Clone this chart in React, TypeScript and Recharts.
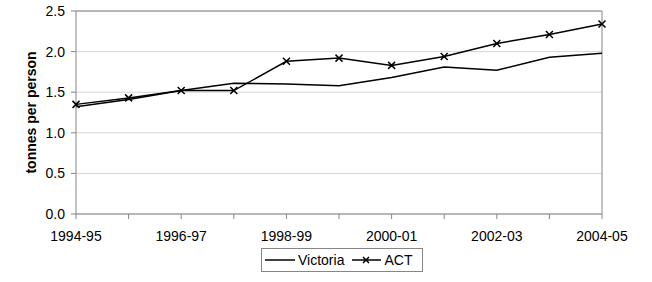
import { LineChart, Line, XAxis, YAxis, CartesianGrid, ReferenceLine } from 'recharts';

const years = ['1994-95', '1995-96', '1996-97', '1997-98', '1998-99', '1999-00', '2000-01', '2001-02', '2002-03', '2003-04', '2004-05'];
const victoria = [1.32, 1.41, 1.52, 1.61, 1.60, 1.58, 1.68, 1.81, 1.77, 1.93, 1.98];
const act = [1.35, 1.43, 1.52, 1.52, 1.88, 1.92, 1.83, 1.94, 2.10, 2.21, 2.34];
const yTicks = [0, 0.5, 1.0, 1.5, 2.0, 2.5];

const data = years.map((year, i) => ({ year, victoria: victoria[i], act: act[i] }));

const font = '"Liberation Sans", Arial, sans-serif';
const axisGray = '#868686';

const Cross = (props: any) => {
    const { cx, cy } = props;
    if (cx == null || cy == null) return null;
    const s = 3.5;
    return (
        <path
            d={`M${cx - s},${cy - s}L${cx + s},${cy + s}M${cx - s},${cy + s}L${cx + s},${cy - s}`}
            stroke="#000"
            strokeWidth={1.5}
            fill="none"
        />
    );
};

const ChartLegend = () => (
    <div
        style={{
            position: 'absolute',
            left: 261,
            top: 248,
            width: 162,
            height: 24,
            border: `1px solid ${axisGray}`,
            boxSizing: 'border-box',
            fontFamily: font,
            fontSize: 14,
            display: 'flex',
            alignItems: 'center',
            paddingLeft: 3,
        }}
    >
        <svg width={30} height={10}>
            <line x1={0} y1={5} x2={30} y2={5} stroke="#000" strokeWidth={1.5} />
        </svg>
        <span style={{ marginLeft: 3, marginRight: 8 }}>Victoria</span>
        <svg width={29} height={10}>
            <line x1={0} y1={5} x2={29} y2={5} stroke="#000" strokeWidth={1.5} />
            <path d="M11,2L17,8M11,8L17,2" stroke="#000" strokeWidth={1.5} />
        </svg>
        <span style={{ marginLeft: 3 }}>ACT</span>
    </div>
);

export default function App() {
    return (
        <div style={{ position: 'absolute', left: 0, top: 0, width: 652, height: 282, background: '#fff' }}>
            <LineChart width={652} height={282} data={data} margin={{ top: 11, right: 50, bottom: 0, left: 0 }}>
                <CartesianGrid vertical={false} stroke="#d4d4d4" />
                <XAxis
                    dataKey="year"
                    interval={0}
                    height={68}
                    tickSize={5}
                    tickMargin={12}
                    stroke={axisGray}
                    tick={{ fill: '#000', fontSize: 14, fontFamily: font }}
                    tickFormatter={(v: string, i: number) => (i % 2 === 0 ? v : '')}
                />
                <YAxis
                    domain={[0, 2.5]}
                    ticks={yTicks}
                    width={76}
                    tickSize={5}
                    tickMargin={6}
                    stroke={axisGray}
                    tick={{ fill: '#000', fontSize: 14, fontFamily: font }}
                    tickFormatter={(v: number) => v.toFixed(1)}
                    label={{
                        value: 'tonnes per person',
                        angle: -90,
                        position: 'center',
                        dx: -7,
                        style: { fontSize: 14, fontWeight: 'bold', fontFamily: font, fill: '#000' },
                    }}
                />
                <ReferenceLine y={2.5} stroke={axisGray} />
                <ReferenceLine x="2004-05" stroke={axisGray} />
                <Line
                    dataKey="victoria"
                    stroke="#000"
                    strokeWidth={1.5}
                    dot={false}
                    isAnimationActive={false}
                />
                <Line
                    dataKey="act"
                    stroke="#000"
                    strokeWidth={1.5}
                    dot={<Cross />}
                    isAnimationActive={false}
                />
            </LineChart>
            <ChartLegend />
        </div>
    );
}
